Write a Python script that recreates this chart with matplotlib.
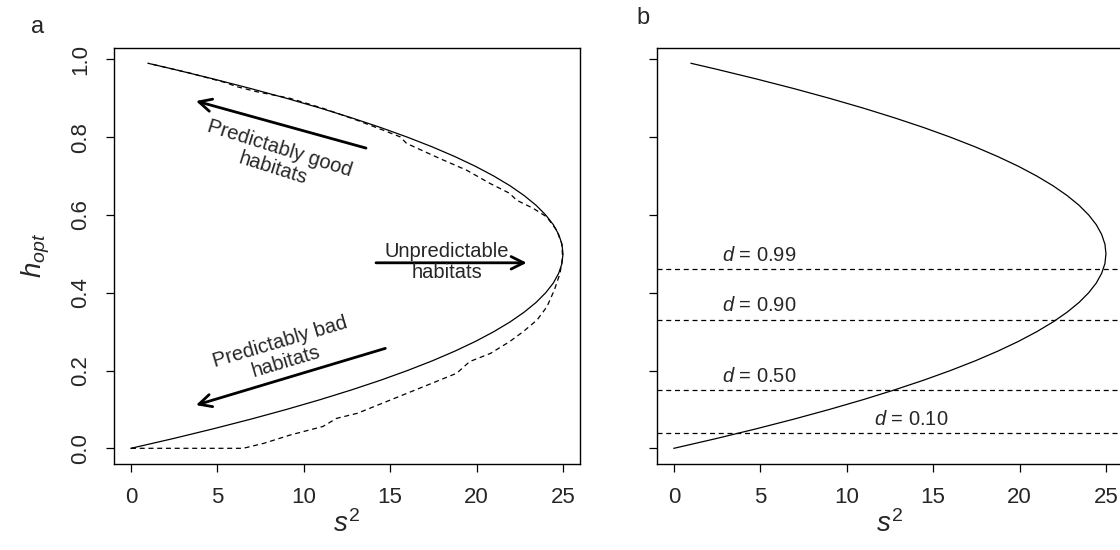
import matplotlib
matplotlib.use("Agg")
import matplotlib.pyplot as plt

plt.rcParams['font.family'] = ['Liberation Sans', 'DejaVu Sans']
plt.rcParams['mathtext.fontset'] = 'custom'
plt.rcParams['mathtext.it'] = 'Liberation Sans:italic'
plt.rcParams['mathtext.rm'] = 'Liberation Sans'

# optimal h against environmental variance s^2 (solid curve, both panels)
h_opt = [0, 0.025, 0.05, 0.075, 0.1, 0.125, 0.15, 0.175, 0.2, 0.225, 0.25,
         0.275, 0.3, 0.325, 0.35, 0.375, 0.4, 0.425, 0.45, 0.475, 0.5,
         0.525, 0.55, 0.575, 0.6, 0.625, 0.65, 0.675, 0.7, 0.725, 0.75,
         0.775, 0.8, 0.825, 0.85, 0.875, 0.9, 0.925, 0.95, 0.975, 0.99]
s2_opt = [0, 2.44, 4.75, 6.94, 9.0, 10.94, 12.75, 14.44, 16.0, 17.44, 18.75,
          19.94, 21.0, 21.94, 22.75, 23.44, 24.0, 24.44, 24.75, 24.94, 25.0,
          24.94, 24.75, 24.44, 24.0, 23.44, 22.75, 21.94, 21.0, 19.94, 18.75,
          17.44, 16.0, 14.44, 12.75, 10.94, 9.0, 6.94, 4.75, 2.44, 0.99]

# simulated curve (dashed, panel a)
sim_s2 = [0, 6.5, 7.7, 9.2, 11.1, 11.9, 13.1, 15.0, 16.9, 18.85, 19.6, 20.8,
          21.9, 22.7, 23.5, 24.07, 24.5, 24.83, 24.98, 24.92, 24.63, 24.06,
          23.28, 22.32, 21.9, 20.78, 19.43, 17.88, 15.95, 15.57, 14.6, 13.06,
          11.13, 9.2, 7.27, 6.12, 5.5, 3.4, 1.0]
sim_h = [0, 0, 0.013, 0.034, 0.056, 0.077, 0.090, 0.124, 0.158, 0.193, 0.223,
         0.244, 0.274, 0.300, 0.330, 0.364, 0.407, 0.45, 0.493, 0.527, 0.561,
         0.595, 0.617, 0.638, 0.656, 0.681, 0.715, 0.745, 0.784, 0.801, 0.818,
         0.844, 0.874, 0.900, 0.917, 0.930, 0.94, 0.965, 0.99]

# panel b: thresholds for each d
d_labels = ['0.99', '0.90', '0.50', '0.10']
d_h = [0.460, 0.331, 0.149, 0.0386]

xticks = [0, 5, 10, 15, 20, 25]
yticks = [0.0, 0.2, 0.4, 0.6, 0.8, 1.0]

txt = '#262626'
fig = plt.figure(figsize=(11.2, 5.5), dpi=100)
ax1 = fig.add_axes([0.1015, 0.1569, 0.4166, 0.756])
ax2 = fig.add_axes([0.5863, 0.1569, 0.4166, 0.756])

for ax in (ax1, ax2):
    ax.plot(s2_opt, h_opt, color='black', lw=0.9)
    ax.set_xlim(-1, 26)
    ax.set_ylim(-0.0396, 1.0296)
    ax.set_xticks(xticks)
    ax.set_xticklabels([str(t) for t in xticks], fontsize=16, color=txt)
    ax.set_yticks(yticks)
    ax.tick_params(direction='out', length=6, width=0.9, pad=10.5)
    ax.set_xlabel(r'$s^2$', fontsize=20, color=txt, labelpad=2)
    for sp in ax.spines.values():
        sp.set_linewidth(1.0)

ax1.set_yticklabels(['%.1f' % t for t in yticks], fontsize=16, color=txt,
                    rotation=90, va='center')
ax2.set_yticklabels([])
ax1.set_ylabel(r'$h_{opt}$', fontsize=20, color=txt, labelpad=13)

ax1.plot(sim_s2, sim_h, color='black', lw=0.9, linestyle=(0, (4, 3)))

arrow = dict(arrowstyle='->,head_length=0.6,head_width=0.3', lw=2.0,
             color='black', mutation_scale=15, shrinkA=0, shrinkB=0)
ax1.annotate('', xy=(3.76, 0.893), xytext=(13.6, 0.772), arrowprops=arrow)
ax1.annotate('', xy=(3.76, 0.111), xytext=(14.72, 0.257), arrowprops=arrow)
ax1.annotate('', xy=(22.9, 0.477), xytext=(14.18, 0.477), arrowprops=arrow)

ax1.text(8.43, 0.745, 'Predictably good\nhabitats', fontsize=14.5, color=txt,
         rotation=-17.5, ha='center', va='center', rotation_mode='anchor',
         linespacing=1.15)
ax1.text(8.82, 0.248, 'Predictably bad\nhabitats', fontsize=14.5, color=txt,
         rotation=16.5, ha='center', va='center', rotation_mode='anchor',
         linespacing=1.15)
ax1.text(18.26, 0.479, 'Unpredictable\nhabitats', fontsize=14.5, color=txt,
         ha='center', va='center', linespacing=1.15)

label_x = [2.76, 2.76, 2.76, 11.57]
for lab, h, lx in zip(d_labels, d_h, label_x):
    ax2.axhline(h, color='black', lw=0.9, linestyle=(0, (4, 3)))
    ax2.text(lx, h + 0.012, r'$d$ = ' + lab, fontsize=14.5, color=txt,
             ha='left', va='bottom')

fig.text(38 / 1120, 1 - 33 / 550, 'a', fontsize=17, color=txt,
         ha='center', va='baseline')
fig.text(643 / 1120, 1 - 24 / 550, 'b', fontsize=17, color=txt,
         ha='center', va='baseline')

plt.savefig('out.png', dpi=100)
